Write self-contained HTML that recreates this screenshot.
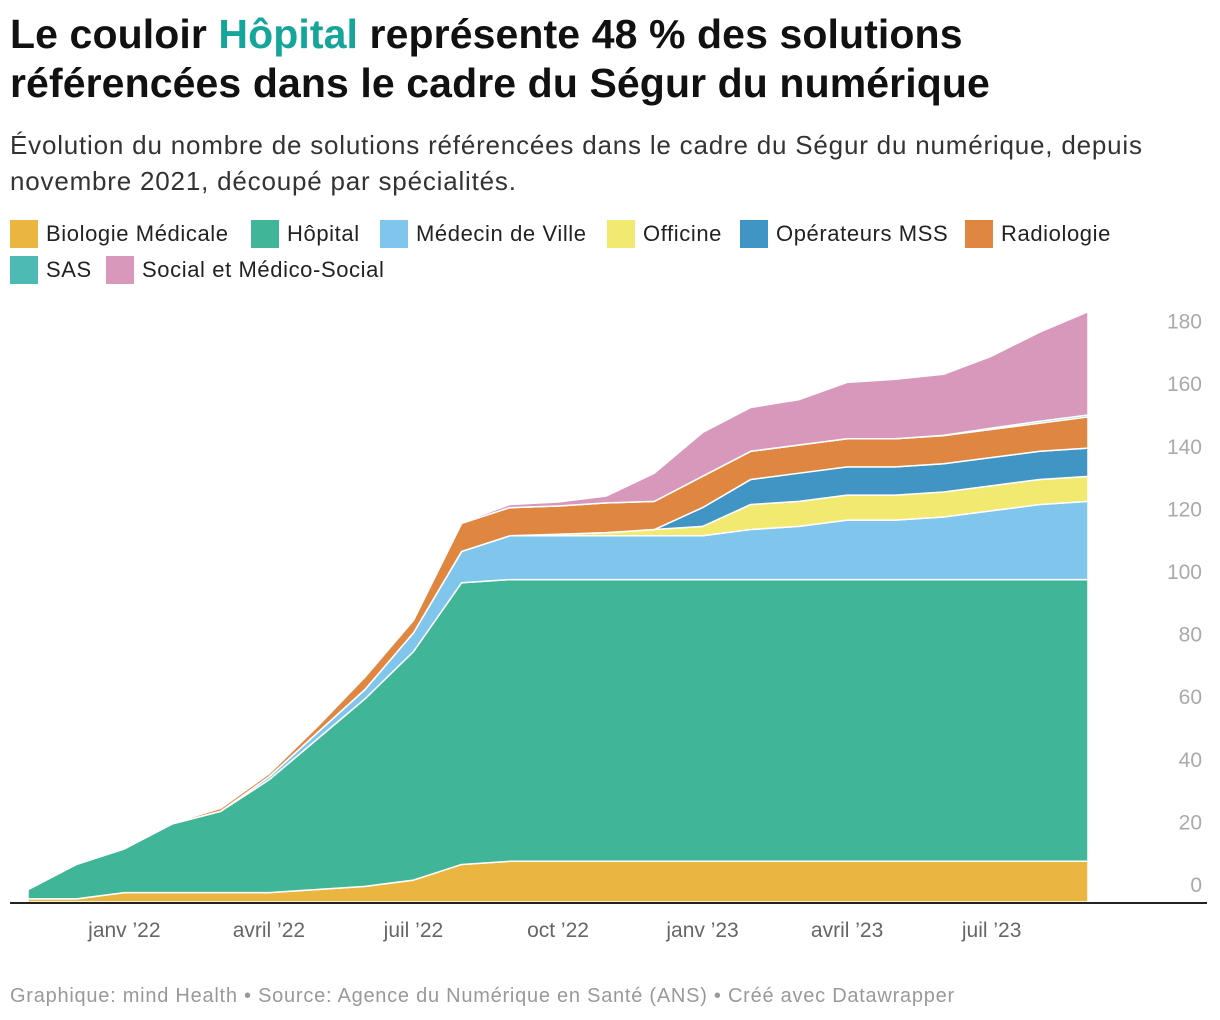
<!DOCTYPE html>
<html><head><meta charset="utf-8">
<style>
body{margin:0;background:#fff;width:1220px;height:1020px;overflow:hidden;font-family:"Liberation Sans",sans-serif;}
.t{position:absolute;left:10px;font-weight:bold;font-size:41px;color:#111;white-space:nowrap;letter-spacing:0.1px}
.s{position:absolute;left:10px;font-size:26px;color:#333;white-space:nowrap;letter-spacing:0.8px}
.lg{position:absolute;font-size:22px;color:#222;white-space:nowrap;display:flex;align-items:center;letter-spacing:0.6px}
.sw{width:28px;height:28px;margin-right:8px;display:inline-block}
.ft{position:absolute;left:10px;top:985px;font-size:20px;color:#999;white-space:nowrap;letter-spacing:0.75px}
</style></head><body>
<div class="t" style="top:11px">Le couloir <span style="color:#15a59a">Hôpital</span> représente 48 % des solutions</div>
<div class="t" style="top:60px">référencées dans le cadre du Ségur du numérique</div>
<div class="s" style="top:130px">Évolution du nombre de solutions référencées dans le cadre du Ségur du numérique, depuis</div>
<div class="s" style="top:166px">novembre 2021, découpé par spécialités.</div>
<div id="legend"></div>
<svg id="chart" width="1220" height="1020" style="position:absolute;left:0;top:0"></svg>
<div class="ft">Graphique: mind Health • Source: Agence du Numérique en Santé (ANS) • Créé avec Datawrapper</div>
<script>
const months = ["nov 21","déc 21","janv 22","févr 22","mars 22","avr 22","mai 22","juin 22","juil 22","août 22","sept 22","oct 22","nov 22","déc 22","janv 23","févr 23","mars 23","avr 23","mai 23","juin 23","juil 23","août 23","sept 23"];
const seriesNames = ["Biologie Médicale","Hôpital","Médecin de Ville","Officine","Opérateurs MSS","Radiologie","SAS","Social et Médico-Social"];
const seriesColors = ["#ebb640","#40b597","#80c5ec","#f2e970","#4195c4","#df8641","#4dbab3","#d898bb"];
const biologie = [1,1,3,3,3,3,4,5,7,12,13,13,13,13,13,13,13,13,13,13,13,13,13];
const hopital = [3,11,14,22,26,36,48,60,73,90,90,90,90,90,90,90,90,90,90,90,90,90,90];
const medecin = [0,0,0,0,0,1,2,3,6,10,14,14,14,14,14,16,17,19,19,20,22,24,25];
const officine = [0,0,0,0,0,0,0,0,0,0,0,0.5,1,2,3,8,8,8,8,8,8,8,8];
const mss = [0,0,0,0,0,0,0,0,0,0,0,0,0,0,6,8,9,9,9,9,9,9,9];
const radiologie = [0,0,0,0.3,1,1,2,4,4,9,9,9,9.5,9,10,9,9,9,9,9,9,9,10];
const sas = [0,0,0,0,0,0,0,0,0,0,0,0,0,0,0,0,0,0,0,0.1,0.4,0.6,0.6];
const social = [0,0,0,0,0,0,0,0,0,0.3,1,1.3,2.2,9,14,14,14.5,18,19,19.5,23,28.5,33];
const yTicks = [0,20,40,60,80,100,120,140,160,180];
const xTickIdx = [2,5,8,11,14,17,20];
const xTickLabels = ["janv ’22","avril ’22","juil ’22","oct ’22","janv ’23","avril ’23","juil ’23"];

const NS="http://www.w3.org/2000/svg";
const svg=document.getElementById('chart');
const x0=28,x1=1088,y0=902,pxPerUnit=3.13;
function xs(i){return x0+(x1-x0)*i/(months.length-1);}
function ys(v){return y0-v*pxPerUnit;}
const all=[biologie,hopital,medecin,officine,mss,radiologie,sas,social];
let base=months.map(()=>0);
all.forEach((ser,k)=>{
  const top=base.map((b,i)=>b+ser[i]);
  let d="M"+xs(0)+","+ys(top[0]);
  for(let i=1;i<months.length;i++) d+="L"+xs(i)+","+ys(top[i]);
  for(let i=months.length-1;i>=0;i--) d+="L"+xs(i)+","+ys(base[i]);
  d+="Z";
  const p=document.createElementNS(NS,'path');
  p.setAttribute('d',d);p.setAttribute('fill',seriesColors[k]);
  p.setAttribute('stroke','#fff');p.setAttribute('stroke-width','1.5');p.setAttribute('stroke-linejoin','round');
  
  
  svg.appendChild(p);
  base=top;
});
yTicks.forEach(v=>{
  const t=document.createElementNS(NS,'text');
  t.setAttribute('x',1202);t.setAttribute('y',ys(v)-10);t.setAttribute('text-anchor','end');
  t.setAttribute('font-size','21');t.setAttribute('fill','#aaa');t.setAttribute('font-family','Liberation Sans, sans-serif');
  t.textContent=v;
  
  
  svg.appendChild(t);
});
const ax=document.createElementNS(NS,'line');
ax.setAttribute('x1',10);ax.setAttribute('x2',1207);ax.setAttribute('y1',y0+1);ax.setAttribute('y2',y0+1);
ax.setAttribute('stroke','#222');ax.setAttribute('stroke-width','2');


svg.appendChild(ax);
xTickIdx.forEach((idx,j)=>{
  const t=document.createElementNS(NS,'text');
  t.setAttribute('x',xs(idx));t.setAttribute('y',937);t.setAttribute('text-anchor','middle');
  t.setAttribute('font-size','21');t.setAttribute('fill','#666');t.setAttribute('font-family','Liberation Sans, sans-serif');
  t.textContent=xTickLabels[j];
  
  
  svg.appendChild(t);
});
const lgPos=[[10,220],[251,220],[380,220],[607,220],[740,220],[965,220],[10,256],[106,256]];
const lg=document.getElementById('legend');
seriesNames.forEach((n,k)=>{
  const e=document.createElement('div');
  e.className='lg';e.style.left=lgPos[k][0]+'px';e.style.top=lgPos[k][1]+'px';
  e.innerHTML='<span class="sw" style="background:'+seriesColors[k]+'"></span>'+n;
  
  
  lg.appendChild(e);
});
</script>
</body></html>
